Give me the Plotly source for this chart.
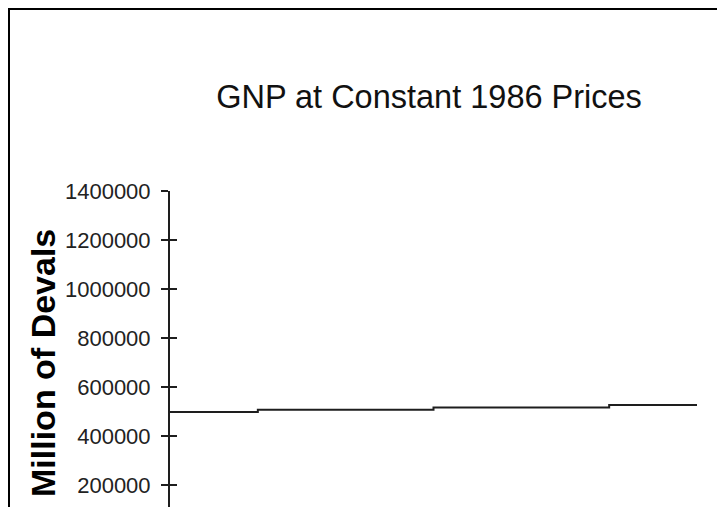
import plotly.graph_objects as go

# Data
years = [1986, 1987, 1988, 1989]
gnp = [498000, 507000, 516000, 526500]
y_ticks = [200000, 400000, 600000, 800000, 1000000, 1200000, 1400000]
y_tick_labels = [str(v) for v in y_ticks]

# page has an 8px body margin; work in figure pixel coordinates
OFF = 8
W, H = 725 - OFF, 507 - OFF
plot_left, plot_right, plot_top, plot_bottom = 170 - OFF, 697 - OFF, 191 - OFF, 507 - OFF
pw = plot_right - plot_left
ph = plot_bottom - plot_top

def px_x(px):
    return (px - OFF - plot_left) / pw

def px_y(py):
    return (plot_bottom - (py - OFF)) / ph

FONT = "Liberation Sans, Arial, sans-serif"

fig = go.Figure()
fig.add_trace(go.Scatter(
    x=years, y=gnp, mode="lines", line=dict(color="#1e1e1e", width=2, shape="hvh"),
    hoverinfo="skip", showlegend=False,
))

fig.update_layout(
    width=W, height=H,
    margin=dict(l=plot_left, r=W - plot_right, t=plot_top, b=H - plot_bottom, pad=0),
    paper_bgcolor="white", plot_bgcolor="white",
    showlegend=False,
    title=dict(
        text="GNP at Constant 1986 Prices",
        font=dict(family=FONT, size=32.5, color="#111"),
        xref="paper", x=px_x(429), xanchor="center",
        yref="container", y=1 - (97 - OFF) / H, yanchor="middle",
    ),
    xaxis=dict(
        range=[years[0], years[-1]], visible=False, showgrid=False, zeroline=False,
    ),
    yaxis=dict(
        range=[110000, 1400000],
        tickmode="array", tickvals=y_ticks, ticktext=y_tick_labels,
        ticks="outside", ticklen=7, tickwidth=2, tickcolor="#1e1e1e",
        showline=True, linewidth=2, linecolor="#1e1e1e",
        showgrid=False, zeroline=False,
        tickfont=dict(family=FONT, size=22, color="#222"),
        ticklabelstandoff=6,
    ),
    yaxis2=dict(
        range=[110000, 1400000], overlaying="y", side="left", anchor="x",
        tickmode="array", tickvals=y_ticks,
        ticks="inside", ticklen=7, tickwidth=2, tickcolor="#1e1e1e",
        showticklabels=False, showline=False, showgrid=False, zeroline=False,
    ),
    annotations=[dict(
        text="<b>Million of Devals</b>", textangle=-90, showarrow=False,
        xref="paper", yref="paper", x=px_x(43), y=px_y(227),
        xanchor="center", yanchor="top",
        font=dict(family=FONT, size=34, color="#000"),
    )],
    shapes=[dict(
        type="rect", xref="paper", yref="paper",
        x0=px_x(9), x1=px_x(740), y0=px_y(560), y1=px_y(9),
        line=dict(color="#000", width=2), fillcolor="rgba(0,0,0,0)", layer="below",
    )],
)

# attach an invisible trace to the secondary axis so its ticks render
fig.add_trace(go.Scatter(
    x=years, y=gnp, yaxis="y2", mode="lines", line=dict(width=0),
    hoverinfo="skip", showlegend=False, opacity=0,
))

fig.write_html("out.html")
